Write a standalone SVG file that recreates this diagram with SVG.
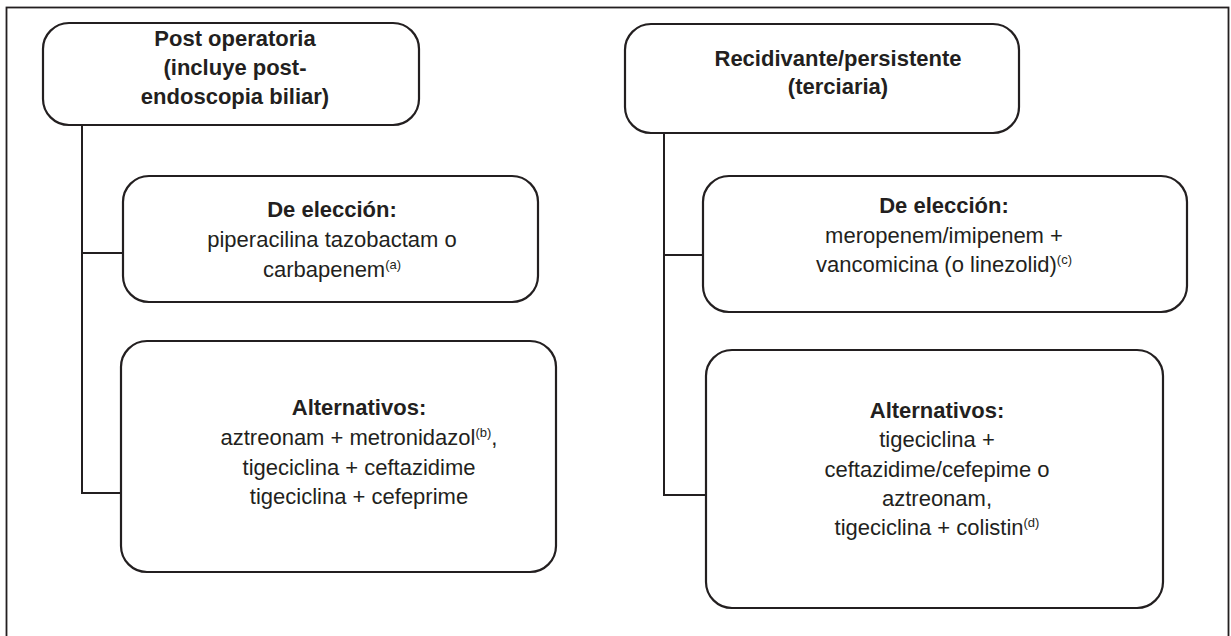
<svg xmlns="http://www.w3.org/2000/svg" width="1231" height="636" viewBox="0 0 1231 636">
<style>
.box{fill:#fff;stroke:#231f20;stroke-width:2.2}
.ln{fill:none;stroke:#231f20;stroke-width:2}
text{font-family:"Liberation Sans",Arial,Helvetica,sans-serif;font-size:22px;fill:#231f20;text-anchor:middle}
.b{font-weight:bold}
.sup{font-size:13px}
</style>
<rect x="0" y="0" width="1231" height="636" fill="#fff"/>
<rect x="6.5" y="7.5" width="1222" height="640" fill="none" stroke="#231f20" stroke-width="1.8"/>
<g id="connectors">
<polyline class="ln" points="82,125 82,493 122,493"/>
<line class="ln" x1="82" y1="253" x2="123" y2="253"/>
<polyline class="ln" points="664,133 664,495 706,495"/>
<line class="ln" x1="664" y1="255" x2="703" y2="255"/>
</g>
<g id="post-operatoria">
<rect class="box" x="43" y="23" width="376" height="102" rx="26"/>
<text class="b" x="235" y="46">Post operatoria</text>
<text class="b" x="235" y="75">(incluye post-</text>
<text class="b" x="235" y="104">endoscopia biliar)</text>
</g>
<g id="recidivante">
<rect class="box" x="625" y="24" width="394" height="109" rx="26"/>
<text class="b" x="838" y="66">Recidivante/persistente</text>
<text class="b" x="838" y="94">(terciaria)</text>
</g>
<g id="eleccion-1">
<rect class="box" x="123" y="176" width="415" height="126" rx="26"/>
<text class="b" x="332" y="217">De elección:</text>
<text x="332" y="247">piperacilina tazobactam o</text>
<text x="332" y="277">carbapenem<tspan class="sup" dy="-8">(a)</tspan></text>
</g>
<g id="alternativos-1">
<rect class="box" x="121" y="341" width="435" height="231" rx="26"/>
<text class="b" x="359" y="415">Alternativos:</text>
<text x="359" y="445">aztreonam + metronidazol<tspan class="sup" dy="-8">(b)</tspan><tspan dy="8">,</tspan></text>
<text x="359" y="475">tigeciclina + ceftazidime</text>
<text x="359" y="504">tigeciclina + cefeprime</text>
</g>
<g id="eleccion-2">
<rect class="box" x="703" y="176" width="484" height="136" rx="26"/>
<text class="b" x="944" y="213">De elección:</text>
<text x="944" y="243">meropenem/imipenem +</text>
<text x="944" y="272">vancomicina (o linezolid)<tspan class="sup" dy="-8">(c)</tspan></text>
</g>
<g id="alternativos-2">
<rect class="box" x="706" y="350" width="457" height="258" rx="26"/>
<text class="b" x="937" y="418">Alternativos:</text>
<text x="937" y="447">tigeciclina +</text>
<text x="937" y="477">ceftazidime/cefepime o</text>
<text x="937" y="506">aztreonam,</text>
<text x="937" y="535">tigeciclina + colistin<tspan class="sup" dy="-8">(d)</tspan></text>
</g>
</svg>
